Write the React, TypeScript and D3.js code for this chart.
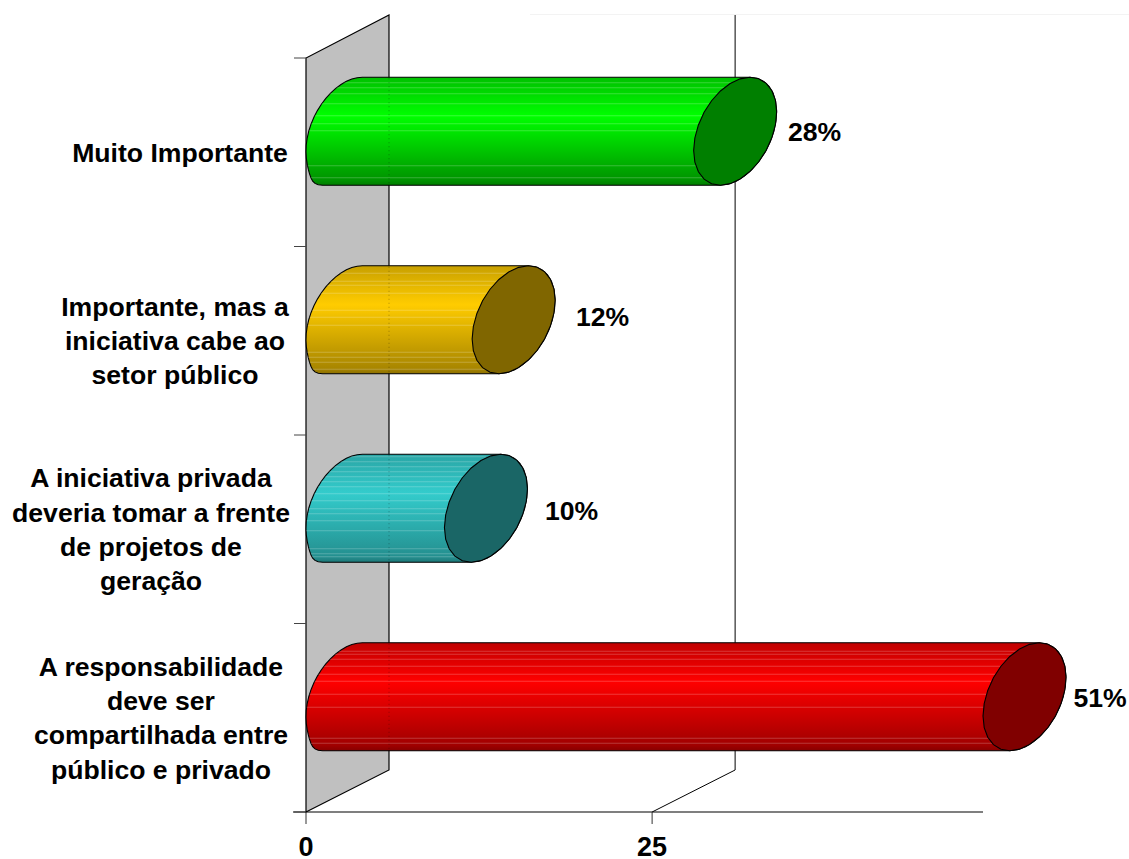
import React from "react";
import * as d3 from "d3";

const categories = ["Muito Importante", "Importante, mas a iniciativa", "A iniciativa privada", "A responsabilidade"];
const categoryLines = [
  ["Muito Importante"],
  ["Importante, mas a", "iniciativa cabe ao", "setor público"],
  ["A iniciativa privada", "deveria tomar a frente", "de projetos de", "geração"],
  ["A responsabilidade", "deve ser", "compartilhada entre", "público e privado"],
];
const barValues = [28, 12, 10, 48.9];
const valueLabels = ["28%", "12%", "10%", "51%"];
const xTicks = [0, 25];
const peakColors = ["#00ff00", "#ffcc00", "#33cccc", "#ff0000"];
const topColors = ["#00c000", "#c8a000", "#2aa5a5", "#c00000"];
const bottomColors = ["#009400", "#a88600", "#248f8f", "#a00000"];
const capColors = ["#007f00", "#806600", "#1a6666", "#800000"];
const streaks = [
  [5, 10, 16, 26, 38, 46, 53, 88, 100],
  [7, 15, 19, 27, 44, 51, 59, 86, 91, 96, 103],
  [2, 7, 12, 17, 22, 27, 32, 39, 46, 54, 59, 66, 76, 94, 99, 102],
  [8, 11, 16, 23, 31, 38, 51, 64, 95, 100],
];

const W = 1129, H = 859;
const left = 306, right = 983, top = 58, bottom = 812;
const depthX = 83, depthY = 42;
const rx = 41.5, ry = 54, phi = (21 * Math.PI) / 180;
const FONT = "'Liberation Sans', Arial, sans-serif";
const labelX = [180, 175, 151, 161];
const valueLabelX = [814.5, 602.5, 571.5, 1100];
const valueLabelBase = [141, 326, 520, 707];
const lineStep = 34.2;
const labelSize = 26.6;

const x = d3.scaleLinear().domain([0, 48.9]).range([left, right]);
const y = d3.scaleBand<string>().domain(categories).range([top, bottom]);
const line = d3.line<[number, number]>();

function arc(cx: number, cy: number, from: number, to: number, n: number, bulge = 0): [number, number][] {
  return d3.range(n + 1).map((i) => {
    const t = from + ((to - from) * i) / n;
    const py = cy - ry * Math.sin(t + phi);
    const px = cx + rx * Math.cos(t);
    // the low-left shoulder of the rounded end sits a little fuller than a true ellipse
    const k = bulge * Math.pow(Math.max(0, (py - cy) / ry), 6);
    return [bulge ? Math.max(left, px - k) : px, py];
  });
}

export default function App() {
  const wall = [[left, bottom], [left + depthX, bottom - depthY], [left + depthX, top - depthY - 1], [left, top]] as [number, number][];
  const step = y.step();
  return (
    <svg width={W} height={H} style={{ position: "absolute", left: 0, top: 0, display: "block", background: "#fff" }} fontFamily={FONT}>
      <defs>
        {categories.map((c, i) => (
          <linearGradient key={c} id={`g${i}`} x1="0" y1="0" x2="0" y2="1">
            <stop offset="0" stopColor={topColors[i]} />
            <stop offset="0.36" stopColor={peakColors[i]} />
            <stop offset="0.95" stopColor={bottomColors[i]} />
            <stop offset="1" stopColor={d3.color(bottomColors[i])!.darker(0.5).formatHex()} />
          </linearGradient>
        ))}
      </defs>
      <line x1={530} x2={W} y1={14.5} y2={14.5} stroke="#f3f3f3" />
      <path d={line(wall) + "Z"} fill="#c0c0c0" stroke="#000" strokeWidth={1.2} />
      {xTicks.slice(1).map((t) => (
        <path key={t} d={`M${x(t)},${bottom}L${x(t) + depthX},${bottom - depthY}V${top - depthY - 1}`} fill="none" stroke="#000" />
      ))}
      <line x1={left - 13} x2={right} y1={bottom} y2={bottom} stroke="#000" strokeWidth={1.2} />
      {d3.range(categories.length + 1).map((i) => (
        <line key={i} x1={left - 12} x2={left} y1={top + i * step} y2={top + i * step} stroke="#444" />
      ))}
      {xTicks.map((t) => (
        <g key={t}>
          <line x1={x(t)} x2={x(t)} y1={bottom} y2={bottom + 12} stroke="#333" />
          <text x={x(t)} y={856} textAnchor="middle" fontSize={27} fontWeight="bold">{t}</text>
        </g>
      ))}
      {categories.map((c, i) => {
        const cy = (y(c) as number) + y.bandwidth() / 2 - depthY / 2;
        const x0 = x(0) + rx;
        const x1 = x(barValues[i]) + rx;
        const a = Math.PI / 2 - phi;
        const body = line([
          ...arc(x0, cy, a, a + Math.PI, 24, 10),
          ...arc(x1, cy, a + Math.PI, a + 2 * Math.PI, 16),
        ]) + "Z";
        const cap = line(arc(x1, cy, 0, 2 * Math.PI, 26)) + "Z";
        const clipId = `c${i}`;
        return (
          <g key={c}>
            <clipPath id={clipId}><path d={body} /></clipPath>
            <path d={body} fill={`url(#g${i})`} stroke="#000" strokeWidth={1.1} />
            <g clipPath={`url(#${clipId})`}>
              {streaks[i].map((s) => (
                <line key={s} x1={left} x2={x1} y1={cy - ry + s + 0.5} y2={cy - ry + s + 0.5} stroke="#fff" strokeOpacity={0.22} />
              ))}
            </g>
            <line x1={left + depthX} x2={left + depthX} y1={cy - ry + 1} y2={cy + ry - 1} stroke="#000" strokeOpacity={0.3} strokeDasharray="1 3" />
            <path d={cap} fill={capColors[i]} stroke="#000" strokeWidth={1.1} />
            <text x={valueLabelX[i]} y={valueLabelBase[i]} textAnchor="middle" fontSize={labelSize} fontWeight="bold">{valueLabels[i]}</text>
            <g fontSize={labelSize} fontWeight="bold" textAnchor="middle">
              {categoryLines[i].map((l, j) => (
                <text key={l} x={labelX[i]} y={(y(c) as number) + y.bandwidth() / 2 + 9.5 + (j - (categoryLines[i].length - 1) / 2) * lineStep}>{l}</text>
              ))}
            </g>
          </g>
        );
      })}
    </svg>
  );
}
